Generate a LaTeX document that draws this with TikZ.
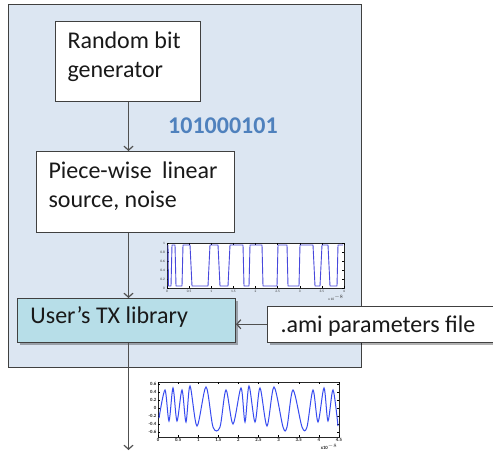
\documentclass[tikz,border=0pt]{standalone}
\usepackage{fontspec}
\setmainfont{Carlito}
\usetikzlibrary{arrows.meta,shadows}
\definecolor{panelfill}{RGB}{220,230,242}
\definecolor{libfill}{RGB}{183,222,232}
\definecolor{bitblue}{RGB}{79,129,189}
\definecolor{edgegray}{RGB}{64,64,64}
\definecolor{linegray}{RGB}{80,80,80}
\definecolor{sqwave}{RGB}{72,72,220}
\definecolor{smwave}{RGB}{55,75,240}
\newcommand\boxfont{\fontsize{24}{29}\selectfont}
\newcommand\tickfont{\fontsize{3.5}{4}\selectfont}
\begin{document}
\begin{tikzpicture}[x=1pt,y=-1pt,
  blockbox/.style={draw=edgegray, line width=1pt, fill=white, anchor=north west, font=\boxfont, text=black!90, text height=17pt},
  conn/.style={draw=linegray, line width=1.2pt, -{Straight Barb[length=4pt,width=9pt]}},
  ticklabel/.style={font=\tickfont, text=black!80, inner sep=0pt},
  boldtick/.style={font=\fontsize{4.8}{5}\selectfont\bfseries, text=black!85, inner sep=0pt},
  plotframe/.style={draw=black!85, line width=0.6pt, fill=white},
  shadowed/.style={drop shadow={shadow xshift=2pt, shadow yshift=-2pt, fill=black, opacity=0.3}}]
\useasboundingbox (0,0) rectangle (493,452);
% outer panel
\node[draw=edgegray, line width=0.9pt, fill=panelfill, anchor=north west, inner sep=0pt,
      minimum width=353pt, minimum height=363pt] (panel) at (8,4) {};
% blocks
\node[blockbox, inner xsep=12pt, inner ysep=9.5pt, text depth=43.5pt] (rbg) at (55,21.5)
  {\parbox[t]{121pt}{Random bit\\generator}};
\node[blockbox, inner xsep=12pt, inner ysep=10pt, text depth=44pt] (pwl) at (36,151)
  {\parbox[t]{174pt}{Piece-wise\hspace{0.2em} linear\\source, noise}};
\node[blockbox, shadowed, fill=libfill, inner xsep=13pt, inner ysep=8pt, text depth=11pt] (lib) at (17,298)
  {\parbox[t]{192pt}{User’s TX library}};
\node[blockbox, shadowed, inner xsep=13pt, inner ysep=9.5pt, text depth=0.5pt] (ami) at (267,305.5)
  {\parbox[t]{199.5pt}{.ami parameters file}};
% bit string
\node[anchor=base west, font=\fontsize{24}{29}\selectfont\bfseries, text=bitblue, inner sep=0pt] (bits) at (168,133) {101000101};
% connectors
\coordinate (axis) at (128.5,0);
\coordinate (out) at (128.5,450);
\draw[conn] (axis |- rbg.south) -- (axis |- pwl.north);
\draw[conn] (axis |- pwl.south) -- (axis |- lib.north);
\draw[conn] (ami.west) -- (ami.west -| lib.east);
\draw[conn] (axis |- lib.south) -- (out);
% ---------- plot 1 (square wave) ----------
\draw[plotframe] (167,243) rectangle (344,288);
\foreach \i in {0,...,8} {
  \draw[line width=0.4pt] ({167+\i*22.125},288) -- ++(0,-2);
  \draw[line width=0.4pt] ({167+\i*22.125},243) -- ++(0,2);
}
\foreach \j in {0,...,5} {
  \draw[line width=0.4pt] (167,{243+\j*9}) -- ++(2,0);
  \draw[line width=0.4pt] (344,{243+\j*9}) -- ++(-2,0);
}
\foreach \v [count=\j from 0] in {1,0.8,0.6,0.4,0.2,0}
  \node[ticklabel, anchor=east] (pa\j) at (165,{243+\j*9}) {\v};
\foreach \v [count=\i from 0] in {0,0.5,1,1.5,2,2.5,3,3.5,4}
  \node[ticklabel, anchor=north] (pb\i) at ({167+\i*22.125},290) {\v};
\node[ticklabel, anchor=north] (pc) at (336,295) {x 10$^{-8}$};
\draw[sqwave, line width=0.9pt, line join=round]
  (168,245) -- (168.5,286) -- (171,286) -- (172,245) -- (175,245) -- (176,286) -- (182,286)
  -- (183,245) -- (190,245) -- (192,286) -- (208,286) -- (210,245) -- (218,245) -- (220,286)
  -- (228,286) -- (230,245) -- (243,245) -- (244,286) -- (249,286) -- (250,245) -- (262,245)
  -- (263,286) -- (277,286) -- (278,245) -- (287,245) -- (288,286) -- (299,286) -- (300,245)
  -- (313,245) -- (315,286) -- (320,286) -- (322,245) -- (328,245) -- (330,286) -- (337,286)
  -- (338,245) -- (343,245);
% ---------- plot 2 (filtered wave) ----------
\draw[plotframe, line width=1pt] (158,382) rectangle (339,437);
\foreach \i in {0,...,9} {
  \draw[line width=0.4pt] ({158+\i*20.11},437) -- ++(0,-2);
  \draw[line width=0.4pt] ({158+\i*20.11},382) -- ++(0,2);
}
\foreach \j in {0,...,6} {
  \draw[line width=0.4pt] (158,{384+\j*8}) -- ++(2,0);
  \draw[line width=0.4pt] (339,{384+\j*8}) -- ++(-2,0);
}
\foreach \v [count=\j from 0] in {0.6,0.4,0.2,0,-0.2,-0.4,-0.6}
  \node[boldtick, anchor=east] (qa\j) at (156.5,{384+\j*8}) {\v};
\foreach \v [count=\i from 0] in {0,0.5,1,1.5,2,2.5,3,3.5,4,4.5}
  \node[boldtick, anchor=north] (qb\i) at ({158+\i*20.11},438.5) {\v};
\node[boldtick, anchor=north] (qc) at (329,444) {x10$^{-8}$};
\draw[smwave, line width=1pt] plot[smooth, tension=0.5] coordinates {
  (159,418) (165,390) (169,421) (173,388) (177,421) (182,390) (186,422) (190,386)
  (197,426) (206,387) (213,427) (220,427) (226,390) (233,424) (241,388) (245,422)
  (249,386) (255,422) (260,388) (267,426) (274,387) (283,427) (287,427) (293,390)
  (302,427) (307,427) (313,390) (318,422) (324,388) (328,421) (333,390) (338,426)};
\end{tikzpicture}
\end{document}
